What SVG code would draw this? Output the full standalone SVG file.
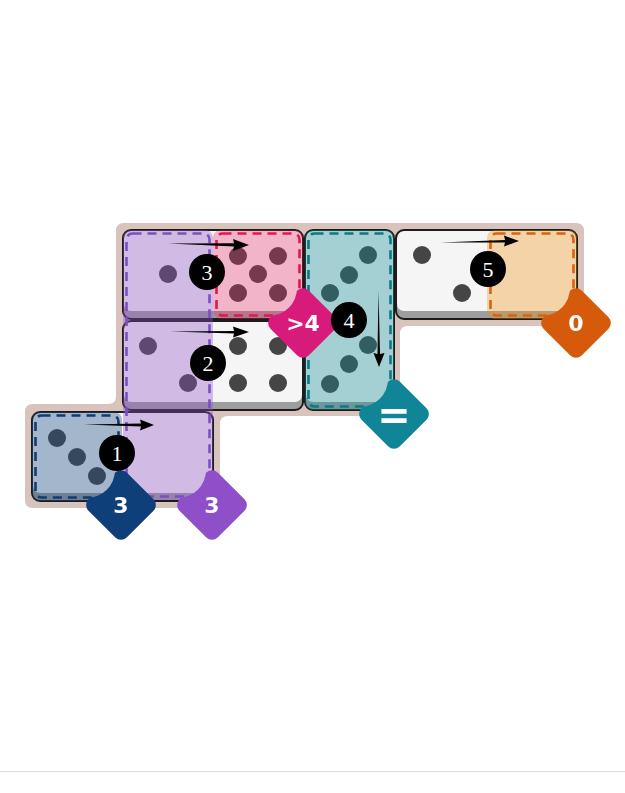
<svg xmlns="http://www.w3.org/2000/svg" width="625" height="793" viewBox="0 0 625 793">
<style>
.d-base{fill:#9e9e9e}
.d-face{fill:#f5f5f5}
.d-edge{fill:none;stroke:#1c1c1c;stroke-width:2}
.pip{fill:#454545}
.dash{fill:none;stroke-width:2.6;stroke-dasharray:9 6}
.badge-t{font-family:"DejaVu Sans",sans-serif;font-weight:bold;font-size:22px;fill:#fff;text-anchor:middle}
.num{fill:#000}
.num-t{font-family:"Liberation Serif",serif;font-size:22px;fill:#fff;text-anchor:middle}
.arrow{fill:#000}
</style>
<defs>
<mask id="notch" maskUnits="userSpaceOnUse" x="-60" y="-60" width="120" height="120">
<rect x="-60" y="-60" width="120" height="120" fill="#fff"/>
<circle cx="-34" cy="-35" r="28" fill="#000"/>
</mask>
</defs>
<rect width="625" height="793" fill="#fff"/>
<line x1="0" y1="771.5" x2="625" y2="771.5" stroke="#dcdcdc" stroke-width="1"/>

<g id="board">
<path d="M124 223 H576 Q584 223 584 231 V318 Q584 326 576 326 H408 Q400 326 400 334 V408 Q400 416 392 416 H228 Q220 416 220 424 V500 Q220 508 212 508 H33 Q25 508 25 500 V412 Q25 404 33 404 H108 Q116 404 116 396 V231 Q116 223 124 223 Z" fill="#d8c4bc"/>
</g>

<g id="domino-a">
<rect class="d-base" x="123" y="230" width="180" height="89" rx="8"/>
<rect class="d-face" x="124" y="231" width="178" height="80" rx="7"/>
<rect class="d-edge" x="123" y="230" width="180" height="89" rx="8"/>
<circle class="pip" cx="168" cy="274" r="9"/>
<circle class="pip" cx="238" cy="256" r="9"/>
<circle class="pip" cx="278" cy="256" r="9"/>
<circle class="pip" cx="258" cy="274" r="9"/>
<circle class="pip" cx="238" cy="293" r="9"/>
<circle class="pip" cx="278" cy="293" r="9"/>
</g>

<g id="domino-d">
<rect class="d-base" x="123" y="321" width="180" height="89" rx="8"/>
<rect class="d-face" x="124" y="322" width="178" height="80" rx="7"/>
<rect class="d-edge" x="123" y="321" width="180" height="89" rx="8"/>
<circle class="pip" cx="148" cy="346" r="9"/>
<circle class="pip" cx="188" cy="383" r="9"/>
<circle class="pip" cx="238" cy="346" r="9"/>
<circle class="pip" cx="278" cy="346" r="9"/>
<circle class="pip" cx="238" cy="383" r="9"/>
<circle class="pip" cx="278" cy="383" r="9"/>
</g>

<g id="domino-b">
<rect class="d-base" x="305" y="230" width="89" height="180" rx="8"/>
<rect class="d-face" x="306" y="231" width="87" height="171" rx="7"/>
<rect class="d-edge" x="305" y="230" width="89" height="180" rx="8"/>
<circle class="pip" cx="368" cy="255" r="9"/>
<circle class="pip" cx="349" cy="275" r="9"/>
<circle class="pip" cx="330" cy="293" r="9"/>
<circle class="pip" cx="368" cy="345" r="9"/>
<circle class="pip" cx="349" cy="364" r="9"/>
<circle class="pip" cx="330" cy="384" r="9"/>
</g>

<g id="domino-c">
<rect class="d-base" x="396" y="230" width="181" height="89" rx="8"/>
<rect class="d-face" x="397" y="231" width="179" height="80" rx="7"/>
<rect class="d-edge" x="396" y="230" width="181" height="89" rx="8"/>
<circle class="pip" cx="422" cy="255" r="9"/>
<circle class="pip" cx="462" cy="293" r="9"/>
</g>

<g id="domino-e">
<rect class="d-base" x="32" y="412" width="181" height="89" rx="8"/>
<rect class="d-face" x="33" y="413" width="179" height="80" rx="7"/>
<rect class="d-edge" x="32" y="412" width="181" height="89" rx="8"/>
<circle class="pip" cx="57" cy="438" r="9"/>
<circle class="pip" cx="77" cy="457" r="9"/>
<circle class="pip" cx="97" cy="476" r="9"/>
</g>

<g id="region-blue">
<rect x="32" y="412" width="90" height="89" rx="8" fill="#1e4f85" fill-opacity="0.38"/>
<rect class="dash" x="35.5" y="415.5" width="83" height="82" rx="6" stroke="#0e3d74"/>
</g>
<g id="region-purple">
<rect x="123" y="230" width="90" height="270" rx="8" fill="#8e50c8" fill-opacity="0.35"/>
<rect class="dash" x="126.5" y="233.5" width="83" height="263" rx="6" stroke="#7b4fc4"/>
</g>
<g id="region-pink">
<rect x="213" y="230" width="90" height="89" rx="8" fill="#e91e63" fill-opacity="0.3"/>
<rect class="dash" x="216.5" y="233.5" width="83" height="82" rx="6" stroke="#e3174f"/>
</g>
<g id="region-teal">
<rect x="305" y="230" width="89" height="180" rx="8" fill="#0e8a96" fill-opacity="0.35"/>
<rect class="dash" x="308.5" y="233.5" width="82" height="173" rx="6" stroke="#0d7a82"/>
</g>
<g id="region-orange">
<rect x="487" y="230" width="90" height="89" rx="8" fill="#f0900a" fill-opacity="0.33"/>
<rect class="dash" x="490.5" y="233.5" width="83" height="82" rx="6" stroke="#d9620e"/>
</g>

<g id="badge-blue" transform="translate(121,505)" mask="url(#notch)">
<rect transform="rotate(45)" x="-27" y="-27" width="54" height="54" rx="8" fill="#0f3f78"/>
<text class="badge-t" x="0" y="8">3</text>
</g>
<g id="badge-purple" transform="translate(212,505)" mask="url(#notch)">
<rect transform="rotate(45)" x="-27" y="-27" width="54" height="54" rx="8" fill="#8e4fc9"/>
<text class="badge-t" x="0" y="8">3</text>
</g>
<g id="badge-pink" transform="translate(303,323)" mask="url(#notch)">
<rect transform="rotate(45)" x="-27" y="-27" width="54" height="54" rx="8" fill="#d81b7a"/>
<text class="badge-t" x="0" y="8">&gt;4</text>
</g>
<g id="badge-teal" transform="translate(394,414)" mask="url(#notch)">
<rect transform="rotate(45)" x="-27" y="-27" width="54" height="54" rx="8" fill="#0f8597"/>
<text class="badge-t" x="0" y="15" style="font-size:40px">=</text>
</g>
<g id="badge-orange" transform="translate(576,323)" mask="url(#notch)">
<rect transform="rotate(45)" x="-27" y="-27" width="54" height="54" rx="8" fill="#d65a0b"/>
<text class="badge-t" x="0" y="8">0</text>
</g>

<g id="connectors">
<path class="arrow" d="M168 243.5 L234 243.3 L233 239 L249 245 L233 251 L234 246.5 Z"/>
<path class="arrow" d="M170 331.5 L234 331 L233 326.5 L249 332 L233 337.5 L234 333.5 Z"/>
<path class="arrow" d="M84 424.5 L141 423.5 L140 419.5 L154 425 L140 430.5 L141 426.5 Z"/>
<path class="arrow" d="M440 242.5 L505 240 L504 235.5 L519 241 L504 246.5 L505 242.5 Z"/>
<path class="arrow" d="M378.5 291 L380 354 L384.5 353 L379 367 L373.5 353 L377.5 354 Z"/>
</g>

<g id="step-1"><circle class="num" cx="117" cy="453" r="18"/><text class="num-t" x="117" y="461">1</text></g>
<g id="step-2"><circle class="num" cx="208" cy="363" r="18"/><text class="num-t" x="208" y="371">2</text></g>
<g id="step-3"><circle class="num" cx="207" cy="272" r="18"/><text class="num-t" x="207" y="280">3</text></g>
<g id="step-4"><circle class="num" cx="349" cy="320" r="18"/><text class="num-t" x="349" y="328">4</text></g>
<g id="step-5"><circle class="num" cx="488" cy="269" r="18"/><text class="num-t" x="488" y="277">5</text></g>
</svg>
